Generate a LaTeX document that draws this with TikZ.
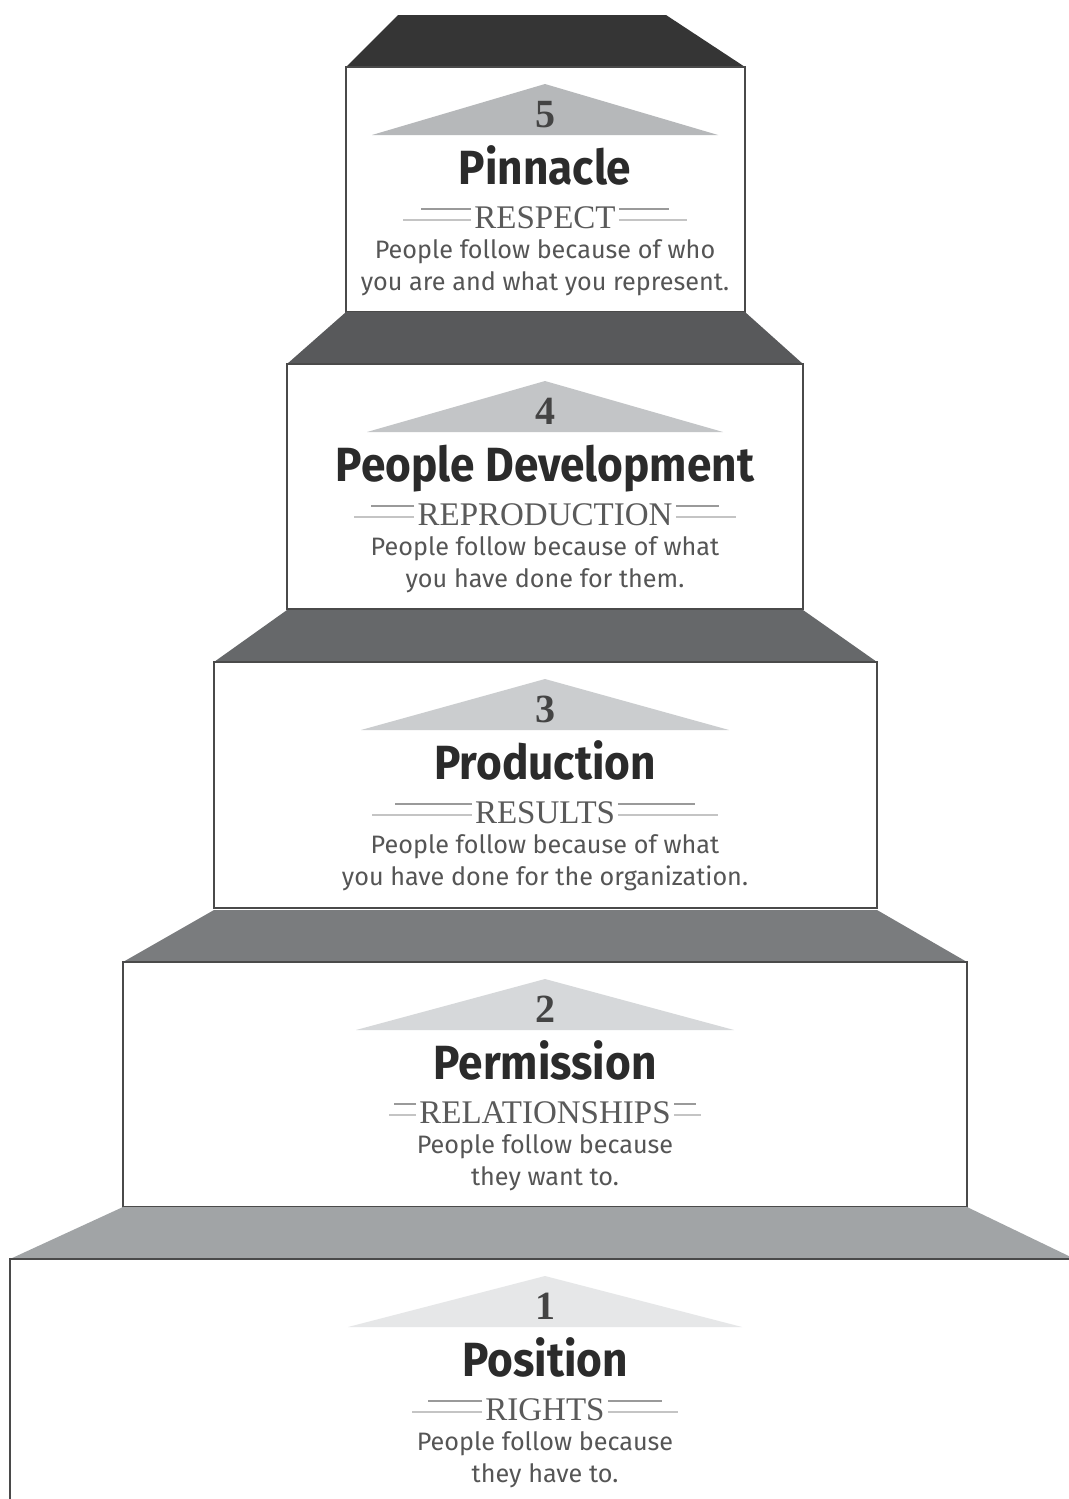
\documentclass[tikz,border=0pt]{standalone}
\usepackage{fontspec}
\usepackage{tikz}
\usepackage{xcolor}
\usetikzlibrary{calc}
\setmainfont{Liberation Serif}
\newfontfamily\titlefont{Fira Sans}[FakeStretch=0.92]
\newfontfamily\descfont{Fira Sans}
\definecolor{roof5}{HTML}{353535}
\definecolor{roof4}{HTML}{58595B}
\definecolor{roof3}{HTML}{66686A}
\definecolor{roof2}{HTML}{7A7C7E}
\definecolor{roof1}{HTML}{A1A4A6}
\definecolor{tri5}{HTML}{B6B8BA}
\definecolor{tri4}{HTML}{C3C5C7}
\definecolor{tri3}{HTML}{CBCDCF}
\definecolor{tri2}{HTML}{D6D8DA}
\definecolor{tri1}{HTML}{E6E7E8}
\definecolor{boxgray}{HTML}{4A4A4A}
\definecolor{numgray}{HTML}{444444}
\definecolor{titlegray}{HTML}{2B2B2B}
\definecolor{subgray}{HTML}{5A5A5A}
\definecolor{descgray}{HTML}{555555}
\definecolor{ruledark}{HTML}{9A9A9A}
\definecolor{rulepale}{HTML}{C4C4C4}

\begin{document}
\begin{tikzpicture}[
    x=0.5pt, y=-0.5pt,
    stepbox/.style={draw=boxgray, line width=0.8pt, fill=white},
    numtext/.style={anchor=base, inner sep=0pt, font=\fontsize{20pt}{24pt}\selectfont\bfseries, text=numgray},
    titletext/.style={anchor=base, inner sep=0pt, font=\titlefont\fontsize{24pt}{28pt}\selectfont\bfseries, text=titlegray},
    subtext/.style={anchor=base, inner sep=1.5pt, font=\fontsize{16.5pt}{19pt}\selectfont, text=subgray},
    desctext/.style={anchor=base, inner sep=0pt, font=\descfont\fontsize{12.6pt}{15pt}\selectfont, text=descgray},
    upperrule/.style={line width=1pt, draw=ruledark},
    lowerrule/.style={line width=1pt, draw=rulepale}
]
\clip (0,0) rectangle (1069,1499);
\fill[white] (0,0) rectangle (1069,1499);

% level / top / bottom / left / right / roof left / roof right / triangle half width / texts / rule lengths
\foreach \i/\t/\bt/\l/\r/\pl/\pr/\h/\ttl/\sub/\la/\lb/\da/\db in {
    5/67/312/346/745/398/666/173/Pinnacle/RESPECT/50/68/{People follow because of who}/{you are and what you represent.},
    4/364/609/287/803/346/745/178/People Development/REPRODUCTION/43/60/{People follow because of what}/{you have done for them.},
    3/662/908/214/877/287/803/184/Production/RESULTS/77/100/{People follow because of what}/{you have done for the organization.},
    2/962/1207/123/967/214/877/189/Permission/RELATIONSHIPS/22/27/{People follow because}/{they want to.},
    1/1259/1510/10/1075/123/967/197/Position/RIGHTS/54/70/{People follow because}/{they have to.}}
{
    \fill[roof\i] (\pl,\t-52) -- (\pr,\t-52) -- (\r,\t) -- (\l,\t) -- cycle;
    \draw[stepbox] (\l,\t) rectangle (\r,\bt);
    \fill[tri\i] (545,\t+17) -- (545+\h,\t+68) -- (545-\h,\t+68) -- cycle;

    \node[numtext] (num\i) at (545,\t+60) {\i};
    \node[titletext] (title\i) at (545,\t+117) {\ttl};
    \node[subtext] (sub\i) at (545,\t+161) {\sub};
    \coordinate (up\i) at (545,\t+142);
    \coordinate (lo\i) at (545,\t+153);
    \draw[upperrule] (sub\i.west |- up\i) -- ++(-\la,0);
    \draw[lowerrule] (sub\i.west |- lo\i) -- ++(-\lb,0);
    \draw[upperrule] (sub\i.east |- up\i) -- ++(\la,0);
    \draw[lowerrule] (sub\i.east |- lo\i) -- ++(\lb,0);
    \node[desctext] (desca\i) at (545,\t+191) {\da};
    \node[desctext] (descb\i) at (545,\t+223) {\db};
}
\end{tikzpicture}
\end{document}
